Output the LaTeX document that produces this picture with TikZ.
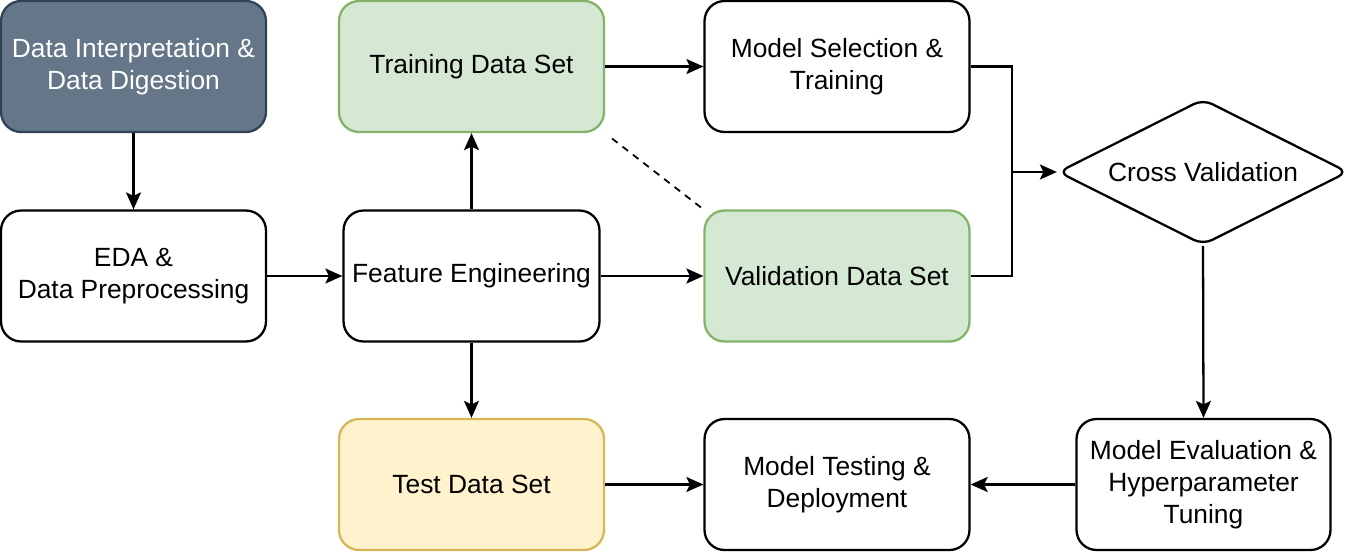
\documentclass[tikz,border=0pt]{standalone}
\usepackage{fontspec}
\setmainfont{Liberation Sans}
\usetikzlibrary{arrows.meta,shapes.geometric}
\definecolor{slate}{HTML}{647687}
\definecolor{slateline}{HTML}{314354}
\definecolor{greenfill}{HTML}{D5E8D4}
\definecolor{greenline}{HTML}{82B366}
\definecolor{yellowfill}{HTML}{FFF2CC}
\definecolor{yellowline}{HTML}{D6B656}

\begin{document}
\begin{tikzpicture}[x=0.02cm,y=-0.02cm,line width=1.3pt,
  >={Stealth[length=0.34cm,width=0.3cm,inset=0.07cm]},
  box/.style={draw,rounded corners=0.4cm,align=center,inner sep=0pt,
    minimum width=5.3cm,minimum height=2.62cm,
    font=\fontsize{15}{18.2}\selectfont},
  databox/.style={box,fill=greenfill,draw=greenline},
  testbox/.style={box,fill=yellowfill,draw=yellowline}]
  \useasboundingbox (0,0) rectangle (1355,555);
  \node[box,fill=slate,draw=slateline,text=white] (interp) at (133.5,66.5)
    {Data Interpretation \&\\Data Digestion};
  \node[box] (eda) at (133.5,276) {EDA \&\\Data Preprocessing};
  \node[box,minimum width=5.12cm] (feat) at (471.5,276) {Feature Engineering};
  \node[databox] (train) at (471.5,66.5) {Training Data Set};
  \node[databox] (valid) at (837,276) {Validation Data Set};
  \node[testbox] (test) at (471.5,484.5) {Test Data Set};
  \node[box] (select) at (837,66.5) {Model Selection \&\\Training};
  \node[box] (deploy) at (837,484.5) {Model Testing \&\\Deployment};
  \node[box,minimum width=5.08cm] (eval) at (1203.5,484.5)
    {Model Evaluation \&\\Hyperparameter\\Tuning};
  \node[draw,diamond,aspect=2,rounded corners=0.2cm,inner sep=0pt,
    minimum width=5.8cm,minimum height=2.92cm,
    font=\fontsize{15}{18.2}\selectfont] (cross) at (1203,172) {Cross Validation};
  \coordinate (merge) at (1012,172);
  \draw[->] (interp) -- (eda);
  \draw[->] (eda) -- (feat);
  \draw[->] (feat) -- (train);
  \draw[->] (feat) -- (test);
  \draw[->] (feat) -- (valid);
  \draw[->] (train) -- (select);
  \draw[dashed,line width=1pt,dash pattern=on 4pt off 3.5pt,shorten <=5pt]
    (train.south east) -- (valid.north west);
  \draw (select.east) -| (merge);
  \draw (valid.east) -| (merge);
  \draw[->] (merge) -- (cross.west);
  \draw[->] (cross.south) -- (eval.north);
  \draw[->] (eval) -- (deploy);
  \draw[->] (test) -- (deploy);
\end{tikzpicture}
\end{document}
